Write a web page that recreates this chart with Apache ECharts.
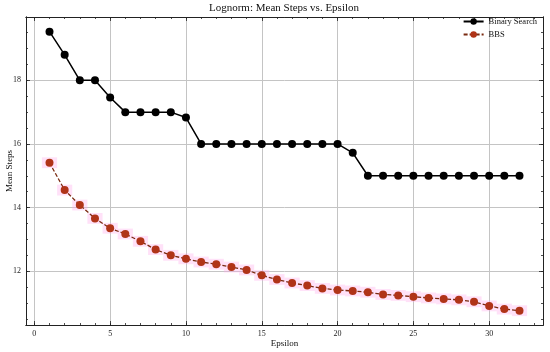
<!DOCTYPE html>
<html>
<head>
<meta charset="utf-8">
<script src="https://cdn.jsdelivr.net/npm/echarts@6/dist/echarts.min.js"></script>
<style>html,body{margin:0;padding:0;background:#fff}#c{width:550px;height:352px}</style>
</head>
<body>
<div id="c"></div>
<script>
const epsilon = [1,2,3,4,5,6,7,8,9,10,11,12,13,14,15,16,17,18,19,20,21,22,23,24,25,26,27,28,29,30,31,32];
const binarySearch = [19.53,18.80,18.00,18.00,17.46,17.00,17.00,17.00,17.00,16.83,16.00,16.00,16.00,16.00,16.00,16.00,16.00,16.00,16.00,16.00,15.72,15.00,15.00,15.00,15.00,15.00,15.00,15.00,15.00,15.00,15.00,15.00];
const bbs = [15.41,14.55,14.08,13.66,13.35,13.17,12.94,12.68,12.50,12.39,12.29,12.22,12.13,12.04,11.87,11.74,11.63,11.55,11.46,11.41,11.38,11.34,11.27,11.24,11.20,11.16,11.13,11.10,11.04,10.91,10.81,10.76];
const bbsSpread = 0.17;
const xMajorTicks = [0,5,10,15,20,25,30];
const xMinorTicks = Array.from({length:34},(_,i)=>i);
const yMajorTicks = [12,14,16,18];
const yMinorTicks = [10.5,11,11.5,12,12.5,13,13.5,14,14.5,15,15.5,16,16.5,17,17.5,18,18.5,19,19.5];

const XMIN = -0.55, XMAX = 33.55, YMIN = 10.31, YMAX = 19.99;
const font = 'Liberation Serif';

function xAx(pos, ticks, len, showLabel, split, name) {
  return {
    type:'value', position:pos, min:XMIN, max:XMAX,
    name: name || '', nameLocation:'middle', nameGap:14, nameMoveOverlap:false,
    nameTextStyle:{fontFamily:font,fontSize:9,color:'#111'},
    axisLine:{show:true,onZero:false,lineStyle:{color:'#222',width:1}},
    axisTick:{show:true,inside:true,length:len,customValues:ticks,lineStyle:{color:'#222',width:0.8}},
    axisLabel:{show:showLabel,customValues:ticks,fontFamily:font,fontSize:8,color:'#222',margin:5},
    splitLine:{show:split,lineStyle:{color:'#c4c4c4',width:1}},
    minorTick:{show:false},minorSplitLine:{show:false}
  };
}
function yAx(pos, ticks, len, showLabel, split, name) {
  return {
    type:'value', position:pos, min:YMIN, max:YMAX,
    name: name || '', nameLocation:'middle', nameGap:12, nameRotate:90, nameMoveOverlap:false,
    nameTextStyle:{fontFamily:font,fontSize:9,color:'#111'},
    axisLine:{show:true,onZero:false,lineStyle:{color:'#222',width:1}},
    axisTick:{show:true,inside:true,length:len,customValues:ticks,lineStyle:{color:'#222',width:0.8}},
    axisLabel:{show:showLabel,customValues:ticks,fontFamily:font,fontSize:8,color:'#222',margin:5},
    splitLine:{show:split,lineStyle:{color:'#c4c4c4',width:1}},
    minorTick:{show:false},minorSplitLine:{show:false}
  };
}

const chart = echarts.init(document.getElementById('c'), null, {renderer:'canvas'});
chart.setOption({
  animation:false,
  backgroundColor:'#fff',
  title:{text:'Lognorm: Mean Steps vs. Epsilon',left:284,top:3,padding:0,textAlign:'center',
    textStyle:{fontFamily:font,fontSize:11,fontWeight:'normal',color:'#111'}},
  grid:{left:26,right:7,top:17,bottom:27,containLabel:false,outerBoundsMode:'none'},
  legend:{
    right:8, top:12, orient:'vertical', itemWidth:20, itemHeight:8, itemGap:4,
    textStyle:{fontFamily:font,fontSize:8.5,color:'#111'},
    data:['Binary Search','BBS']
  },
  xAxis:[
    xAx('bottom', xMajorTicks, 4, true, true, 'Epsilon'),
    xAx('bottom', xMinorTicks, 2, false, false),
    xAx('top', xMajorTicks, 4, false, false),
    xAx('top', xMinorTicks, 2, false, false)
  ],
  yAxis:[
    yAx('left', yMajorTicks, 4, true, true, 'Mean Steps'),
    yAx('left', yMinorTicks, 2, false, false),
    yAx('right', yMajorTicks, 4, false, false),
    yAx('right', yMinorTicks, 2, false, false)
  ],
  series:[
    {
      type:'custom', name:'BBS spread', xAxisIndex:0, yAxisIndex:0, silent:true, z:1,
      data: epsilon.map((e,i)=>[e,bbs[i]]),
      renderItem:(params, api)=>{
        const x = api.value(0), y = api.value(1);
        const p1 = api.coord([x-0.5, y+bbsSpread]);
        const p2 = api.coord([x+0.5, y-bbsSpread]);
        return {type:'rect', shape:{x:p1[0],y:p1[1],width:p2[0]-p1[0],height:p2[1]-p1[1]},
          style:{fill:'rgba(255,170,235,0.35)'}};
      }
    },
    {
      type:'line', name:'Binary Search', xAxisIndex:0, yAxisIndex:0, z:3,
      data: epsilon.map((e,i)=>[e,binarySearch[i]]),
      symbol:'circle', symbolSize:8, showSymbol:true,
      lineStyle:{color:'#000',width:1.5},
      itemStyle:{color:'#000'}
    },
    {
      type:'line', name:'BBS', xAxisIndex:0, yAxisIndex:0, z:3,
      data: epsilon.map((e,i)=>[e,bbs[i]]),
      symbol:'circle', symbolSize:8, showSymbol:true,
      lineStyle:{color:'#7a2a10',width:1.3,type:[4,2]},
      itemStyle:{color:'#b03418'}
    }
  ]
});
</script>
</body>
</html>
